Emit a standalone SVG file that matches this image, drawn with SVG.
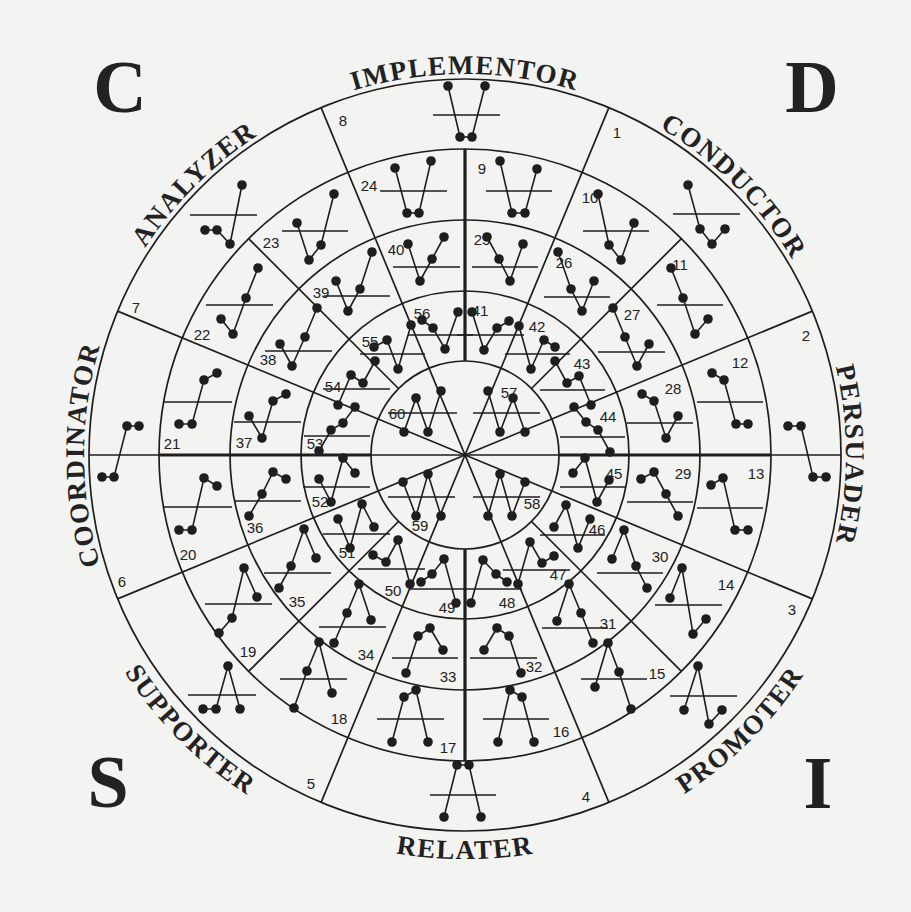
<svg xmlns="http://www.w3.org/2000/svg" width="911" height="912" viewBox="0 0 911 912">
<style>
.bg{fill:#f3f3f1}
.grid circle,.grid line{fill:none;stroke:#1e1e1e;stroke-width:1.7}
.grid .thick{stroke-width:3.2}
.gl polyline{fill:none;stroke:#1e1e1e;stroke-width:1.6;marker-start:url(#dot);marker-mid:url(#dot);marker-end:url(#dot)}
.gl line{stroke:#1e1e1e;stroke-width:1.6}
.num{font-family:"Liberation Sans",Arial,sans-serif;font-size:15px;fill:#222;text-anchor:middle}
.role{font-family:"Liberation Serif","Times New Roman",serif;font-weight:bold;font-size:27px;letter-spacing:1.5px;fill:#222}
.big{font-family:"Liberation Serif","Times New Roman",serif;font-weight:bold;font-size:74px;fill:#222;text-anchor:middle}
</style>
<defs>
<marker id="dot" viewBox="0 0 10 10" refX="5" refY="5" markerWidth="9.6" markerHeight="9.6" markerUnits="userSpaceOnUse"><circle cx="5" cy="5" r="5" fill="#1e1e1e"/></marker>
<path id="pImpl" d="M89.8,388.8 A381,381 0 0 1 840.2,388.8"/>
<path id="pCond" d="M246.5,142.9 A381,381 0 0 1 777.1,673.5"/>
<path id="pPers" d="M531.2,79.8 A381,381 0 0 1 531.2,830.2"/>
<path id="pCoord" d="M398.8,830.2 A381,381 0 0 1 398.8,79.8"/>
<path id="pAnal" d="M152.9,673.5 A381,381 0 0 1 683.5,142.9"/>
<path id="pRel" d="M67.1,525.2 A404,404 0 0 0 862.9,525.2"/>
<path id="pProm" d="M233.3,785.9 A404,404 0 0 0 795.9,223.3"/>
<path id="pSupp" d="M134.1,223.3 A404,404 0 0 0 696.7,785.9"/>
</defs>
<rect class="bg" x="0" y="0" width="911" height="912"/>

<g id="grid" class="grid">
<circle cx="465" cy="455" r="376"/>
<circle cx="465" cy="455" r="306"/>
<circle cx="465" cy="455" r="235"/>
<circle cx="465" cy="455" r="164"/>
<circle cx="465" cy="455" r="94"/>
<line x1="812.4" y1="598.9" x2="117.6" y2="311.1"/>
<line x1="812.4" y1="311.1" x2="117.6" y2="598.9"/>
<line x1="608.9" y1="802.4" x2="321.1" y2="107.6"/>
<line x1="608.9" y1="107.6" x2="321.1" y2="802.4"/>
<line x1="531.5" y1="388.5" x2="681.4" y2="238.6"/>
<line x1="398.5" y1="388.5" x2="248.6" y2="238.6"/>
<line x1="531.5" y1="521.5" x2="681.4" y2="671.4"/>
<line x1="398.5" y1="521.5" x2="248.6" y2="671.4"/>
<line x1="89" y1="455" x2="841" y2="455"/>
<line class="thick" x1="159" y1="455" x2="371" y2="455"/>
<line class="thick" x1="559" y1="455" x2="771" y2="455"/>
<line class="thick" x1="465" y1="149" x2="465" y2="361"/>
<line class="thick" x1="465" y1="549" x2="465" y2="761"/>
</g>

<g id="roles">
<text class="role"><textPath href="#pImpl" startOffset="50%" text-anchor="middle">IMPLEMENTOR</textPath></text>
<text class="role"><textPath href="#pCond" startOffset="50%" text-anchor="middle">CONDUCTOR</textPath></text>
<text class="role"><textPath href="#pPers" startOffset="50%" text-anchor="middle">PERSUADER</textPath></text>
<text class="role"><textPath href="#pCoord" startOffset="50%" text-anchor="middle">COORDINATOR</textPath></text>
<text class="role"><textPath href="#pAnal" startOffset="50%" text-anchor="middle">ANALYZER</textPath></text>
<text class="role"><textPath href="#pRel" startOffset="50%" text-anchor="middle">RELATER</textPath></text>
<text class="role"><textPath href="#pProm" startOffset="50%" text-anchor="middle">PROMOTER</textPath></text>
<text class="role"><textPath href="#pSupp" startOffset="50%" text-anchor="middle">SUPPORTER</textPath></text>
</g>

<g id="corners">
<text class="big" x="120" y="112">C</text>
<text class="big" x="812" y="112">D</text>
<text class="big" x="108" y="807">S</text>
<text class="big" x="818" y="808">I</text>
</g>

<g id="outer" class="gl">
<g id="oImpl"><polyline points="448,86 460,137 472,137 485,86"/><line x1="433" y1="115" x2="500" y2="115"/></g>
<g id="oCond"><polyline points="688,185 700,229 712,244 725,229"/><line x1="673" y1="214" x2="740" y2="214"/></g>
<g id="oPers"><polyline points="788,426 801,426 813,477 826,477"/></g>
<g id="oProm"><polyline points="684,710 698,666 709,724 722,710"/><line x1="670" y1="696" x2="737" y2="696"/></g>
<g id="oRel"><polyline points="444,817 457,765 469,765 481,817"/><line x1="430" y1="795" x2="496" y2="795"/></g>
<g id="oSupp"><polyline points="203,709 216,709 228,666 240,709"/><line x1="188" y1="695" x2="256" y2="695"/></g>
<g id="oCoord"><polyline points="102,477 114,477 127,426 139,426"/></g>
<g id="oAnal"><polyline points="205,230 217,230 230,244 242,185"/><line x1="190" y1="215" x2="257" y2="215"/></g>
</g>

<g id="outerNums">
<text class="num" x="617" y="138">1</text>
<text class="num" x="806" y="341">2</text>
<text class="num" x="792" y="615">3</text>
<text class="num" x="586" y="802">4</text>
<text class="num" x="311" y="789">5</text>
<text class="num" x="122" y="587">6</text>
<text class="num" x="136" y="313">7</text>
<text class="num" x="343" y="126">8</text>
</g>

<g id="ring2" class="gl">
<g id="g9"><polyline points="500,161 512,213 525,213 537,169"/><line x1="486" y1="191" x2="552" y2="191"/><text class="num" x="482" y="174">9</text></g>
<g id="g10"><polyline points="598,194 609,245 621,260 634,223"/><line x1="583" y1="231" x2="649" y2="231"/><text class="num" x="590" y="203">10</text></g>
<g id="g11"><polyline points="671,268 683,298 695,334 708,319"/><line x1="657" y1="305" x2="723" y2="305"/><text class="num" x="680" y="270">11</text></g>
<g id="g12"><polyline points="712,373 724,380 736,424 748,424"/><line x1="697" y1="402" x2="763" y2="402"/><text class="num" x="740" y="368">12</text></g>
<g id="g13"><polyline points="711,485 723,478 735,530 748,530"/><line x1="697" y1="508" x2="763" y2="508"/><text class="num" x="756" y="479">13</text></g>
<g id="g14"><polyline points="670,598 682,568 693,634 706,619"/><line x1="655" y1="605" x2="722" y2="605"/><text class="num" x="726" y="590">14</text></g>
<g id="g15"><polyline points="595,687 608,643 619,672 631,709"/><line x1="581" y1="679" x2="647" y2="679"/><text class="num" x="657" y="679">15</text></g>
<g id="g16"><polyline points="498,742 510,690 522,697 534,742"/><line x1="483" y1="719" x2="549" y2="719"/><text class="num" x="561" y="737">16</text></g>
<g id="g17"><polyline points="392,742 404,697 416,690 428,742"/><line x1="377" y1="719" x2="444" y2="719"/><text class="num" x="448" y="753">17</text></g>
<g id="g18"><polyline points="294,708 307,671 319,642 332,693"/><line x1="280" y1="679" x2="347" y2="679"/><text class="num" x="339" y="724">18</text></g>
<g id="g19"><polyline points="219,633 232,618 244,568 257,597"/><line x1="205" y1="604" x2="272" y2="604"/><text class="num" x="248" y="657">19</text></g>
<g id="g20"><polyline points="179,530 192,530 204,478 217,486"/><line x1="164" y1="507" x2="232" y2="507"/><text class="num" x="188" y="560">20</text></g>
<g id="g21"><polyline points="179,424 192,424 204,380 217,373"/><line x1="164" y1="402" x2="232" y2="402"/><text class="num" x="172" y="449">21</text></g>
<g id="g22"><polyline points="221,319 233,334 246,298 258,268"/><line x1="206" y1="305" x2="273" y2="305"/><text class="num" x="202" y="340">22</text></g>
<g id="g23"><polyline points="297,223 309,260 321,245 334,194"/><line x1="282" y1="231" x2="348" y2="231"/><text class="num" x="271" y="248">23</text></g>
<g id="g24"><polyline points="395,168 407,213 419,213 431,161"/><line x1="380" y1="191" x2="447" y2="191"/><text class="num" x="369" y="191">24</text></g>
</g>

<g id="ring3" class="gl">
<g id="g25"><polyline points="487,237 499,259 510,281 523,244"/><line x1="472" y1="267" x2="538" y2="267"/><text class="num" x="482" y="245">25</text></g>
<g id="g26"><polyline points="558,252 571,289 582,311 594,281"/><line x1="544" y1="297" x2="610" y2="297"/><text class="num" x="564" y="268">26</text></g>
<g id="g27"><polyline points="613,308 625,337 637,366 649,344"/><line x1="598" y1="352" x2="665" y2="352"/><text class="num" x="632" y="320">27</text></g>
<g id="g28"><polyline points="642,394 654,401 666,438 678,416"/><line x1="627" y1="423" x2="693" y2="423"/><text class="num" x="673" y="394">28</text></g>
<g id="g29"><polyline points="641,479 654,472 666,494 678,516"/><line x1="627" y1="502" x2="693" y2="502"/><text class="num" x="683" y="479">29</text></g>
<g id="g30"><polyline points="612,559 624,530 636,566 647,588"/><line x1="597" y1="573" x2="663" y2="573"/><text class="num" x="660" y="562">30</text></g>
<g id="g31"><polyline points="557,621 569,584 581,613 593,643"/><line x1="542" y1="628" x2="608" y2="628"/><text class="num" x="608" y="629">31</text></g>
<g id="g32"><polyline points="484,650 497,628 509,636 521,673"/><line x1="470" y1="658" x2="537" y2="658"/><text class="num" x="534" y="672">32</text></g>
<g id="g33"><polyline points="406,673 418,636 430,628 443,650"/><line x1="392" y1="658" x2="458" y2="658"/><text class="num" x="448" y="682">33</text></g>
<g id="g34"><polyline points="334,643 347,613 359,584 371,620"/><line x1="319" y1="627" x2="386" y2="627"/><text class="num" x="366" y="660">34</text></g>
<g id="g35"><polyline points="279,588 291,566 304,529 316,558"/><line x1="264" y1="573" x2="331" y2="573"/><text class="num" x="297" y="607">35</text></g>
<g id="g36"><polyline points="249,516 262,494 273,472 286,479"/><line x1="234" y1="501" x2="301" y2="501"/><text class="num" x="255" y="533">36</text></g>
<g id="g37"><polyline points="249,416 262,438 273,401 286,394"/><line x1="234" y1="422" x2="301" y2="422"/><text class="num" x="244" y="448">37</text></g>
<g id="g38"><polyline points="280,344 292,366 305,337 317,308"/><line x1="265" y1="351" x2="332" y2="351"/><text class="num" x="268" y="365">38</text></g>
<g id="g39"><polyline points="336,281 348,311 360,289 372,252"/><line x1="324" y1="296" x2="390" y2="296"/><text class="num" x="321" y="298">39</text></g>
<g id="g40"><polyline points="408,244 420,281 432,259 444,237"/><line x1="393" y1="267" x2="460" y2="267"/><text class="num" x="396" y="255">40</text></g>
</g>

<g id="ring4" class="gl">
<g id="g41"><polyline points="472,312 484,350 497,328 509,321"/><line x1="457" y1="335" x2="524" y2="335"/><text class="num" x="480" y="316">41</text></g>
<g id="g42"><polyline points="519,326 531,369 544,340 555,347"/><line x1="505" y1="354" x2="570" y2="354"/><text class="num" x="537" y="332">42</text></g>
<g id="g43"><polyline points="555,361 567,383 579,376 591,405"/><line x1="540" y1="390" x2="605" y2="390"/><text class="num" x="582" y="369">43</text></g>
<g id="g44"><polyline points="574,407 586,422 598,430 610,452"/><line x1="560" y1="437" x2="625" y2="437"/><text class="num" x="608" y="422">44</text></g>
<g id="g45"><polyline points="573,473 585,458 597,502 609,480"/><line x1="560" y1="487" x2="625" y2="487"/><text class="num" x="614" y="479">45</text></g>
<g id="g46"><polyline points="554,527 566,505 578,548 590,519"/><line x1="540" y1="535" x2="605" y2="535"/><text class="num" x="597" y="535">46</text></g>
<g id="g47"><polyline points="518,584 530,542 542,563 554,556"/><line x1="503" y1="570" x2="570" y2="570"/><text class="num" x="558" y="580">47</text></g>
<g id="g48"><polyline points="471,603 483,560 496,574 507,582"/><line x1="465" y1="589" x2="522" y2="589"/><text class="num" x="507" y="608">48</text></g>
<g id="g49"><polyline points="421,582 432,574 444,559 456,603"/><line x1="410" y1="589" x2="465" y2="589"/><text class="num" x="447" y="613">49</text></g>
<g id="g50"><polyline points="373,555 386,562 398,540 410,584"/><line x1="358" y1="569" x2="425" y2="569"/><text class="num" x="393" y="596">50</text></g>
<g id="g51"><polyline points="338,519 350,548 362,504 374,527"/><line x1="323" y1="534" x2="390" y2="534"/><text class="num" x="347" y="558">51</text></g>
<g id="g52"><polyline points="319,479 331,502 343,458 355,473"/><line x1="303" y1="487" x2="370" y2="487"/><text class="num" x="320" y="507">52</text></g>
<g id="g53"><polyline points="319,451 331,430 343,423 355,407"/><line x1="304" y1="436" x2="370" y2="436"/><text class="num" x="315" y="449">53</text></g>
<g id="g54"><polyline points="338,405 351,375 363,383 375,361"/><line x1="323" y1="389" x2="390" y2="389"/><text class="num" x="333" y="392">54</text></g>
<g id="g55"><polyline points="374,347 387,340 398,369 411,325"/><line x1="360" y1="354" x2="425" y2="354"/><text class="num" x="370" y="347">55</text></g>
<g id="g56"><polyline points="422,320 433,328 445,349 458,312"/><line x1="408" y1="335" x2="473" y2="335"/><text class="num" x="422" y="319">56</text></g>
</g>

<g id="inner" class="gl">
<g id="g57"><polyline points="488,391 500,432 513,398 525,432"/><line x1="473" y1="413" x2="540" y2="413"/><text class="num" x="509" y="398">57</text></g>
<g id="g58"><polyline points="488,516 500,474 512,516 525,482"/><line x1="473" y1="497" x2="540" y2="497"/><text class="num" x="532" y="509">58</text></g>
<g id="g59"><polyline points="403,482 416,516 428,474 441,516"/><line x1="388" y1="497" x2="455" y2="497"/><text class="num" x="420" y="531">59</text></g>
<g id="g60"><polyline points="404,432 416,398 428,432 441,391"/><line x1="388" y1="413" x2="457" y2="413"/><text class="num" x="397" y="419">60</text></g>
</g>
</svg>
